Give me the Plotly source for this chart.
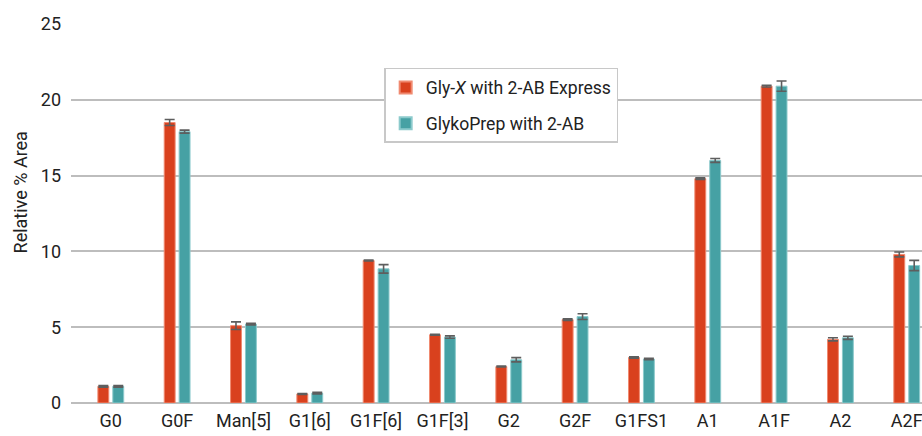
import plotly.graph_objects as go

# Glycan peak categories
glycans = ["G0", "G0F", "Man[5]", "G1[6]", "G1F[6]", "G1F[3]", "G2", "G2F",
           "G1FS1", "A1", "A1F", "A2", "A2F"]

# Relative % area and standard deviations for each sample preparation
glyx_area = [1.1, 18.5, 5.1, 0.6, 9.4, 4.5, 2.4, 5.5, 3.0, 14.8, 20.9, 4.2, 9.8]
glyx_sd = [0.05, 0.2, 0.25, 0.03, 0.03, 0.03, 0.03, 0.05, 0.05, 0.05, 0.06, 0.1, 0.16]

glykoprep_area = [1.1, 17.9, 5.2, 0.65, 8.85, 4.35, 2.85, 5.7, 2.9, 16.0, 20.9, 4.3, 9.07]
glykoprep_sd = [0.05, 0.1, 0.05, 0.05, 0.28, 0.08, 0.14, 0.19, 0.05, 0.13, 0.34, 0.1, 0.34]

y_ticks = [0, 5, 10, 15, 20, 25]

FONT = "Roboto"
RED = "#D9411E"
TEAL = "#46A1A4"
ERR = "#5E5E5E"
GRID = "#BDBDBD"
TEXT = "#222222"

fig = go.Figure()
fig.add_trace(go.Bar(
    x=glycans, y=glyx_area, name="Gly-<i>X</i> with 2-AB Express",
    legendgroup="glyx",
    marker=dict(color=RED, line=dict(color="#F08A70", width=1)),
    error_y=dict(type="data", array=glyx_sd, color=ERR, thickness=1.6, width=5),
))
fig.add_trace(go.Bar(
    x=glycans, y=glykoprep_area, name="GlykoPrep with 2-AB",
    legendgroup="glykoprep",
    marker=dict(color=TEAL, line=dict(color="#8CCACC", width=1)),
    error_y=dict(type="data", array=glykoprep_sd, color=ERR, thickness=1.6, width=5),
))

fig.update_layout(
    width=922, height=436,
    margin=dict(l=71, r=0, t=24, b=33),
    paper_bgcolor="white", plot_bgcolor="white",
    barmode="group", bargap=0.55, bargroupgap=0.27,
    font=dict(family=FONT, size=17, color=TEXT),
    showlegend=True,
    legend=dict(
        x=0.368, y=0.884, xanchor="left", yanchor="top",
        bgcolor="white", bordercolor="#C8C8C8", borderwidth=1.5,
        font=dict(family=FONT, size=17.6, color=TEXT),
        traceorder="grouped", tracegroupgap=10, itemsizing="constant",
    ),
    xaxis=dict(
        type="category", range=[-0.6, 12.23],
        showgrid=False, showline=False, ticks="", ticklabelstandoff=5,
        tickfont=dict(family=FONT, size=18, color=TEXT),
        fixedrange=True,
    ),
    yaxis=dict(
        range=[0, 25], tickvals=y_ticks,
        showgrid=True, gridcolor=GRID, gridwidth=1.5,
        zeroline=True, zerolinecolor=GRID, zerolinewidth=1.5,
        showline=False, ticks="", ticklabelstandoff=9,
        tickfont=dict(family=FONT, size=18, color=TEXT),
    ),
    annotations=[dict(
        text="Relative % Area", textangle=-90,
        xref="paper", yref="paper", x=-0.059, y=0.555,
        xanchor="center", yanchor="middle", showarrow=False,
        font=dict(family=FONT, size=18, color=TEXT),
    )],
)

fig.write_html("out.html")
